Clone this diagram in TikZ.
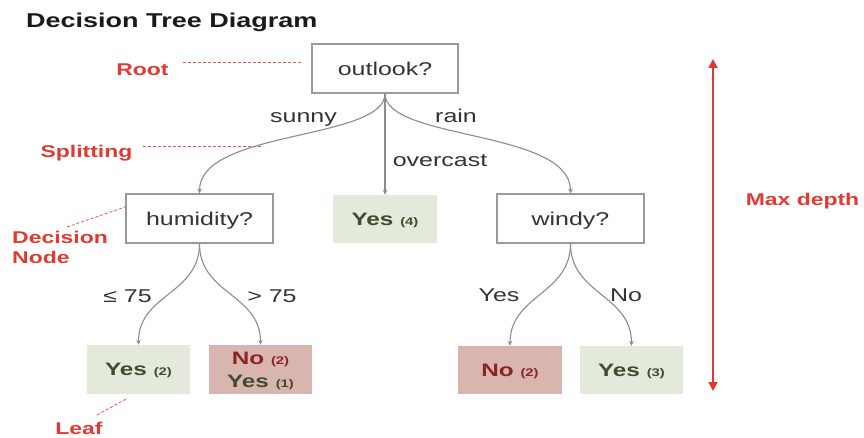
\documentclass[tikz,border=0pt]{standalone}
\usepackage{fontspec}
\setmainfont[FakeStretch=1.35]{Liberation Sans}
\usetikzlibrary{arrows.meta}
\definecolor{txt}{HTML}{333333}
\definecolor{edgegray}{HTML}{8C8C8C}
\definecolor{boxgray}{HTML}{9A9A9A}
\definecolor{redlab}{HTML}{E03A33}
\definecolor{greenfill}{HTML}{E3EADB}
\definecolor{greentxt}{HTML}{3E4D2E}
\definecolor{redfill}{HTML}{D9B5AF}
\definecolor{redtxt}{HTML}{8B2525}
\newcommand{\cnt}[1]{{\fontsize{11}{13}\selectfont(#1)}}
\begin{document}
\begin{tikzpicture}[x=1pt,y=-1pt,
  qbox/.style={draw=boxgray, line width=1.1pt, fill=white, minimum width=147pt, minimum height=49pt,
    inner sep=0pt, font=\fontsize{18.5}{22}\selectfont, text=txt, text height=13.2pt, text depth=0pt},
  leafbox/.style={minimum width=103pt, minimum height=49pt, inner sep=0pt,
    font=\bfseries\fontsize{18}{22}\selectfont, text height=12.9pt, text depth=0pt},
  leafG/.style={leafbox, fill=greenfill, text=greentxt},
  leafR/.style={leafbox, fill=redfill, text=redtxt},
  edge/.style={draw=edgegray, line width=1.1pt, -{Stealth[length=5pt,width=4.5pt]}},
  elab/.style={font=\fontsize{18.5}{22}\selectfont, text=txt, inner sep=0pt, text height=13.2pt, text depth=0pt},
  rlab/.style={font=\bfseries\fontsize{17}{20}\selectfont, text=redlab, inner sep=0pt, text height=12.2pt, text depth=0pt},
  rdash/.style={draw=redlab!85, line width=0.8pt, dash pattern=on 3pt off 2pt},
  depthline/.style={draw=redlab, line width=1.8pt, {Triangle[length=9pt,width=9pt]}-{Triangle[length=9pt,width=9pt]}}
]
\useasboundingbox[fill=white] (0,0) rectangle (864,438);

% title
\node[anchor=base west, inner sep=0pt, font=\bfseries\fontsize{20}{24}\selectfont, text=black!90] (title) at (26,28) {Decision Tree Diagram};

% decision nodes
\node[qbox, minimum width=146pt] (root) at (385,68.5) {outlook?};
\node[qbox] (hum) at (199.5,218.5) {humidity?};
\node[leafG, minimum width=104pt, minimum height=48pt] (yes4) at (385,219) {Yes \cnt{4}};
\node[qbox] (windy) at (570.5,218.5) {windy?};

% leaves
\node[leafG] (l1) at (138.5,369.5) {Yes \cnt{2}};
\node[leafR] (l2) at (260.5,369.5) {};
\node[leafbox, text=redtxt] (l2a) at (260.5,358.5) {No \cnt{2}};
\node[leafbox, text=greentxt] (l2b) at (260.5,381.5) {Yes \cnt{1}};
\node[leafR, minimum width=104pt, minimum height=48pt] (l3) at (510,370) {No \cnt{2}};
\node[leafG, minimum height=48pt] (l4) at (631.5,370) {Yes \cnt{3}};

% edges
\draw[edge] (root.south) .. controls +(0,47) and +(0,-64) .. (hum.north);
\draw[edge] (root.south) -- (yes4.north);
\draw[edge] (root.south) .. controls +(0,47) and +(0,-64) .. (windy.north);
\draw[edge] (hum.south) .. controls +(0,51) and +(0,-51) .. (l1.north);
\draw[edge] (hum.south) .. controls +(0,51) and +(0,-51) .. (l2.north);
\draw[edge] (windy.south) .. controls +(0,51) and +(0,-51) .. (l3.north);
\draw[edge] (windy.south) .. controls +(0,51) and +(0,-51) .. (l4.north);

% edge labels
\node[elab] (esunny) at (303.5,116.4) {sunny};
\node[elab] (erain) at (456,116.4) {rain};
\node[elab] (eover) at (440,160) {overcast};
\node[elab] (ele) at (127.5,296) {≤ 75};
\node[elab] (egt) at (272,296) {> 75};
\node[elab] (eyes) at (499,295) {Yes};
\node[elab] (eno) at (626,295) {No};

% red annotations
\node[rlab] (rroot) at (142.5,69) {Root};
\coordinate (rootA) at (183,62);
\coordinate (rootB) at (302,62);
\draw[rdash] (rootA) -- (rootB);

\node[rlab] (rsplit) at (86.5,151) {Splitting};
\coordinate (splitA) at (143,146);
\coordinate (splitB) at (263,146);
\draw[rdash] (splitA) -- (splitB);

\node[rlab, anchor=west] (rdec1) at (12,237) {Decision};
\node[rlab, anchor=west] (rdec2) at (12,257) {Node};
\coordinate (decA) at (67,227);
\coordinate (decB) at (128,206);
\draw[rdash] (decA) -- (decB);

\node[rlab] (rleaf) at (79,428) {Leaf};
\coordinate (leafA) at (97,415);
\coordinate (leafB) at (128,398);
\draw[rdash] (leafA) -- (leafB);

\coordinate (mdTop) at (713,59);
\coordinate (mdBot) at (713,391);
\draw[depthline] (mdTop) -- (mdBot);
\node[rlab] (rmax) at (802.5,199) {Max depth};
\end{tikzpicture}
\end{document}
